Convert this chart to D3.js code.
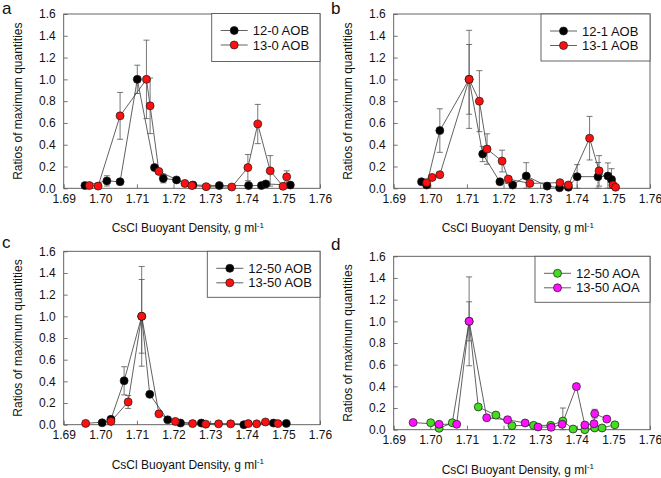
<!DOCTYPE html>
<html><head><meta charset="utf-8">
<script src="https://cdn.jsdelivr.net/npm/d3@7"></script>
<style>
body{margin:0;background:#fff;}
svg{display:block;font-family:"Liberation Sans",Arial,sans-serif;}
</style></head>
<body><svg id="c" width="661" height="478"></svg>
<script>
// ---- data: [density g/ml, ratio of max quantity, error] ----
const xTicks = [1.69,1.70,1.71,1.72,1.73,1.74,1.75,1.76];
const yTicks = [0,0.2,0.4,0.6,0.8,1.0,1.2,1.4,1.6];

const a_12_0 = [[1.6958,0.025,0],[1.7018,0.068,0.047],[1.7054,0.06,0],[1.7101,1.0,0.13],[1.7148,0.19,0.02],[1.7172,0.09,0.04],[1.7208,0.077,0],[1.7253,0.03,0],[1.7325,0.025,0],[1.7405,0.025,0],[1.7440,0.025,0],[1.7452,0.04,0],[1.7519,0.03,0]];
const a_13_0 = [[1.6970,0.025,0],[1.6994,0.02,0],[1.7054,0.665,0.215],[1.7126,1.0,0.36],[1.7136,0.757,0.255],[1.7160,0.155,0],[1.7231,0.045,0],[1.7250,0.025,0],[1.7289,0.015,0],[1.7359,0.012,0],[1.7403,0.19,0.12],[1.7430,0.59,0.18],[1.7464,0.16,0.14],[1.7499,0.018,0],[1.7509,0.105,0.055]];

const b_12_1 = [[1.6976,0.06,0],[1.6990,0.03,0],[1.7026,0.53,0.2],[1.7106,1.0,0.32],[1.7143,0.315,0.07],[1.7190,0.06,0],[1.7225,0.03,0],[1.7262,0.113,0.122],[1.7319,0.02,0],[1.7353,0.005,0],[1.7377,0.01,0],[1.7401,0.107,0.11],[1.7458,0.107,0.13],[1.7485,0.113,0.12],[1.7495,0.08,0.1]];
const b_13_1 = [[1.6990,0.052,0],[1.7005,0.10,0],[1.7026,0.125,0],[1.7106,1.0,0.45],[1.7134,0.80,0.28],[1.7155,0.36,0.14],[1.7196,0.25,0.1],[1.7213,0.085,0],[1.7272,0.045,0],[1.7354,0.052,0],[1.7377,0.03,0],[1.7435,0.46,0.2],[1.7461,0.16,0.14],[1.7499,0.03,0],[1.7506,0.01,0]];

const c_12_50 = [[1.7005,0.018,0],[1.7029,0.05,0],[1.7065,0.405,0.13],[1.7113,1.0,0.34],[1.7135,0.28,0],[1.7184,0.045,0],[1.7219,0.015,0],[1.7276,0.015,0],[1.7392,0.0,0],[1.7473,0.015,0],[1.7508,0.012,0]];
const c_13_50 = [[1.6960,0.012,0],[1.7029,0.03,0],[1.7076,0.21,0.06],[1.7113,1.0,0.46],[1.7160,0.10,0],[1.7205,0.03,0],[1.7252,0.01,0],[1.7288,0.005,0],[1.7323,0.008,0],[1.7356,0.008,0],[1.7404,0.01,0],[1.7427,0.008,0],[1.7451,0.025,0],[1.7485,0.01,0]];

const d_12_50 = [[1.7001,0.064,0],[1.7024,0.013,0],[1.7060,0.064,0],[1.7106,1.0,0.18],[1.7131,0.21,0],[1.7179,0.135,0],[1.7223,0.037,0],[1.7282,0.04,0],[1.7329,0.04,0],[1.7362,0.08,0.12],[1.7390,0.006,0],[1.7422,0.0,0],[1.7449,0.016,0],[1.7469,0.016,0],[1.7504,0.045,0]];
const d_13_50 = [[1.6953,0.066,0],[1.7024,0.05,0],[1.7072,0.05,0],[1.7106,1.0,0.41],[1.7154,0.11,0],[1.7211,0.092,0],[1.7259,0.062,0],[1.7294,0.025,0],[1.7330,0.022,0],[1.7360,0.05,0],[1.7399,0.398,0],[1.7422,0.043,0],[1.7447,0.055,0],[1.7449,0.148,0.04],[1.7482,0.098,0]];

const panelLetters = ["a","b","c","d"];
const seriesNames = [["12-0 AOB","13-0 AOB"],["12-1 AOB","13-1 AOB"],["12-50 AOB","13-50 AOB"],["12-50 AOA","13-50 AOA"]];
const seriesData = [[a_12_0,a_13_0],[b_12_1,b_13_1],[c_12_50,c_13_50],[d_12_50,d_13_50]];
const seriesColors = [["#000000","#ff1010"],["#000000","#ff1010"],["#000000","#ff1010"],["#44dd22","#ff10ff"]];

// ---- layout ----
const layout = [
  {l:63.7,r:320,t:14,b:188.3, leg:{x:211.7,y:13.5,w:108.3,h:48}, letter:[2,14]},
  {l:393.7,r:650,t:14,b:188.3, leg:{x:541,y:14,w:109,h:47}, letter:[331,14]},
  {l:63.7,r:320,t:251.3,b:424.7, leg:{x:207.3,y:251.3,w:112.7,h:46}, letter:[2,248]},
  {l:393.7,r:650,t:256.3,b:429.7, leg:{x:535,y:256.3,w:115,h:46}, letter:[331,250]}
];

const svg = d3.select("#c");
const frameColor = "#555";
const lineColor = "#3a3a3a";
const FS = 12;

layout.forEach((L,i)=>{
  const g = svg.append("g");
  const x = d3.scaleLinear().domain([1.69,1.76]).range([L.l,L.r]);
  const y = d3.scaleLinear().domain([0,1.6]).range([L.b,L.t]);

  const xa = g.append("g").attr("transform",`translate(0,${L.b})`)
    .call(d3.axisBottom(x).tickValues(xTicks).tickFormat(d3.format(".2f")).tickSizeInner(-4).tickSizeOuter(0).tickPadding(6));
  const ya = g.append("g").attr("transform",`translate(${L.l},0)`)
    .call(d3.axisLeft(y).tickValues(yTicks).tickFormat(d3.format(".1f")).tickSizeInner(-4).tickSizeOuter(0).tickPadding(8));
  [xa,ya].forEach(a=>{
    a.select(".domain").remove();
    a.selectAll("line").attr("stroke",frameColor).attr("stroke-width",0.8);
    a.selectAll("text").attr("font-size",FS).attr("fill","#111").attr("font-family","'Liberation Sans',Arial,sans-serif");
  });
  g.append("rect").attr("x",L.l).attr("y",L.t).attr("width",L.r-L.l).attr("height",L.b-L.t)
    .attr("fill","none").attr("stroke",frameColor).attr("stroke-width",0.9);

  g.append("text").attr("transform",`translate(${L.l-45.7},${(L.t+L.b)/2}) rotate(-90)`)
    .attr("text-anchor","middle").attr("dominant-baseline","central").attr("font-size",FS).attr("fill","#111")
    .text("Ratios of maximum quantities");
  const xt = g.append("text").attr("x",(L.l+L.r)/2-4).attr("y",L.b+44).attr("text-anchor","middle")
    .attr("font-size",FS).attr("fill","#111");
  xt.append("tspan").text("CsCl Buoyant Density, g ml");
  xt.append("tspan").attr("dy",-4.5).attr("font-size",8).text("-1");

  g.append("text").attr("x",L.letter[0]).attr("y",L.letter[1]).attr("font-size",17).attr("fill","#111")
    .text(panelLetters[i]);

  const line = d3.line().x(d=>x(d[0])).y(d=>y(d[1]));
  seriesData[i].forEach((data,s)=>{
    const sg = g.append("g");
    sg.append("path").datum(data).attr("d",line).attr("fill","none").attr("stroke",lineColor).attr("stroke-width",0.8);
    const eb = data.filter(d=>d[2]>0);
    sg.selectAll("line.eb").data(eb).join("line").attr("class","eb")
      .attr("x1",d=>x(d[0])).attr("x2",d=>x(d[0])).attr("y1",d=>y(d[1]+d[2])).attr("y2",d=>y(Math.max(0,d[1]-d[2])))
      .attr("stroke","#555").attr("stroke-width",0.8);
    ["u","d"].forEach(k=>{
      const yv = d => k=="u" ? d[1]+d[2] : Math.max(0,d[1]-d[2]);
      sg.selectAll("line.cap"+k).data(eb).join("line").attr("class","cap"+k)
        .attr("x1",d=>x(d[0])-3).attr("x2",d=>x(d[0])+3)
        .attr("y1",d=>y(yv(d))).attr("y2",d=>y(yv(d)))
        .attr("stroke","#555").attr("stroke-width",0.8);
    });
  });
  seriesData[i].forEach((data,s)=>{
    g.append("g").selectAll("circle").data(data).join("circle")
      .attr("cx",d=>x(d[0])).attr("cy",d=>y(d[1])).attr("r",4)
      .attr("fill",seriesColors[i][s]).attr("stroke","#1a1a1a").attr("stroke-width",0.7);
  });

  const lg = g.append("g");
  lg.append("rect").attr("x",L.leg.x).attr("y",L.leg.y).attr("width",L.leg.w).attr("height",L.leg.h)
    .attr("fill","#fff").attr("stroke",frameColor).attr("stroke-width",0.9);
  seriesNames[i].forEach((nm,s)=>{
    const ry = L.leg.y + 17 + s*14.5;
    const lx = L.leg.x + 9;
    lg.append("line").attr("x1",lx).attr("x2",lx+27).attr("y1",ry).attr("y2",ry).attr("stroke",lineColor).attr("stroke-width",0.8);
    lg.append("circle").attr("cx",lx+13.5).attr("cy",ry).attr("r",4)
      .attr("fill",seriesColors[i][s]).attr("stroke","#1a1a1a").attr("stroke-width",0.7);
    lg.append("text").attr("x",L.leg.x+41).attr("y",ry).attr("dominant-baseline","central")
      .attr("font-size",13).attr("fill","#111").text(nm);
  });
});
</script></body></html>
